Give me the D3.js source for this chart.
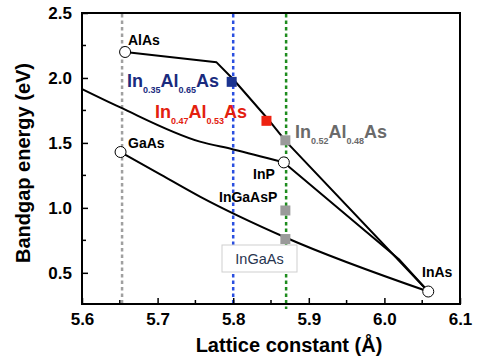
<!DOCTYPE html>
<html>
<head>
<meta charset="utf-8">
<script src="https://cdn.jsdelivr.net/npm/d3@7"></script>
<style>
  body { margin: 0; background: #fff; }
  svg { display: block; font-family: "Liberation Sans", Arial, sans-serif; }
</style>
</head>
<body>
<div class="chart"></div>
<script>
//Axis ticks
var xTicks = [5.6, 5.7, 5.8, 5.9, 6.0, 6.1];
var xMinor = [5.65, 5.75, 5.85, 5.95, 6.05];
var yTicks = [0.5, 1.0, 1.5, 2.0, 2.5];
var yMinor = [0.75, 1.25, 1.75, 2.25];

//Binary compounds (lattice constant, bandgap)
var binaryNames = ["AlAs", "GaAs", "InP", "InAs"];
var binaryA = [5.657, 5.651, 5.867, 6.058];
var binaryEg = [2.2, 1.43, 1.35, 0.356];

//Curves, [lattice constant, bandgap]
var alInAsCurve = [[5.657, 2.2], [5.778, 2.12], [5.80, 1.99], [5.845, 1.69], [5.87, 1.51], [6.058, 0.356]];
var upperCurve = [[5.6, 1.915], [5.65, 1.775], [5.756, 1.51], [5.8, 1.45], [5.867, 1.35]];
var inGaAsCurve = [[5.651, 1.43], [5.70, 1.27], [5.756, 1.087], [5.87, 0.77], [6.058, 0.356]];
var inPInAsCurve = [[5.867, 1.35], [6.02, 0.6], [6.058, 0.356]];

//Square markers
var squareA = [5.798, 5.844, 5.869, 5.869, 5.869];
var squareEg = [1.97, 1.67, 1.52, 0.98, 0.76];
var squareColors = ["#1b3490", "#ee2211", "#9a9a9a", "#9a9a9a", "#9a9a9a"];

//Vertical dotted lines
var vLineA = [5.653, 5.8, 5.87];
var vLineColors = ["#a0a0a0", "#2a4fe0", "#1e8c1e"];

function init(){
  var w = 478;
  var h = 360;
  var left = 82, top = 13, right = 460, bottom = 304;

  var svg = d3.select(".chart")
              .append("svg")
              .attr("width", w)
              .attr("height", h);

  var x = d3.scaleLinear().domain([5.6, 6.1]).range([left, right]);
  var y = d3.scaleLinear().domain([0.26, 2.5]).range([bottom, top]);

  //Dotted guide lines
  svg.selectAll(".vline")
      .data(vLineA)
      .enter()
      .append("line")
      .attr("x1", function(d){ return x(d); })
      .attr("x2", function(d){ return x(d); })
      .attr("y1", top + 1)
      .attr("y2", function(d, i){ return i == 2 ? bottom + 5 : bottom; })
      .attr("stroke", function(d, i){ return vLineColors[i]; })
      .attr("stroke-width", 2.5)
      .attr("stroke-dasharray", "3.5,3");

  //Curves (the two bowed ones are smoothed)
  var straight = d3.line()
               .x(function(d){ return x(d[0]); })
               .y(function(d){ return y(d[1]); });
  var smooth = d3.line()
               .curve(d3.curveMonotoneX)
               .x(function(d){ return x(d[0]); })
               .y(function(d){ return y(d[1]); });

  var curves = [alInAsCurve, upperCurve, inGaAsCurve, inPInAsCurve];
  var curveGen = [straight, smooth, smooth, straight];

  svg.selectAll(".curve")
      .data(curves)
      .enter()
      .append("path")
      .attr("d", function(d, i){ return curveGen[i](d); })
      .attr("fill", "none")
      .attr("stroke", "#000")
      .attr("stroke-width", 2)
      .attr("stroke-linejoin", "round");

  //InGaAs box
  var box = svg.append("g");
  box.append("rect")
      .attr("x", 222).attr("y", 245)
      .attr("width", 75).attr("height", 27)
      .attr("fill", "#fff")
      .attr("stroke", "#cfcfcf")
      .attr("stroke-width", 1);
  box.append("text")
      .attr("x", 259.5).attr("y", 263.5)
      .attr("text-anchor", "middle")
      .style("font-size", "14.5px")
      .attr("fill", "#27344f")
      .text("InGaAs");

  //Squares
  var s = 10;
  svg.selectAll(".sq")
      .data(squareA)
      .enter()
      .append("rect")
      .attr("x", function(d){ return x(d) - s / 2; })
      .attr("y", function(d, i){ return y(squareEg[i]) - s / 2; })
      .attr("width", s)
      .attr("height", s)
      .attr("fill", function(d, i){ return squareColors[i]; });

  //Binary circles
  svg.selectAll(".bin")
      .data(binaryA)
      .enter()
      .append("circle")
      .attr("cx", function(d){ return x(d); })
      .attr("cy", function(d, i){ return y(binaryEg[i]); })
      .attr("r", 5.5)
      .attr("fill", "#fff")
      .attr("stroke", "#000")
      .attr("stroke-width", 1);

  //Binary labels
  var labelPos = [[128, 45], [128, 148], [253, 179], [422, 277]];
  svg.selectAll(".binlab")
      .data(binaryNames)
      .enter()
      .append("text")
      .attr("x", function(d, i){ return labelPos[i][0]; })
      .attr("y", function(d, i){ return labelPos[i][1]; })
      .style("font-size", "14px")
      .style("font-weight", "bold")
      .text(function(d){ return d; });

  svg.append("text")
      .attr("x", 219).attr("y", 202)
      .style("font-size", "14px")
      .style("font-weight", "bold")
      .text("InGaAsP");

  //Alloy labels with subscripts
  function alloy(px, py, a, b, color){
    var t = svg.append("text")
               .attr("x", px).attr("y", py)
               .attr("fill", color)
               .style("font-weight", "bold")
               .style("font-size", "18px");
    t.append("tspan").text("In");
    t.append("tspan").attr("dy", 6).style("font-size", "9px").text(a);
    t.append("tspan").attr("dy", -6).text("Al");
    t.append("tspan").attr("dy", 6).style("font-size", "9px").text(b);
    t.append("tspan").attr("dy", -6).text("As");
  }
  alloy(127, 87, "0.35", "0.65", "#1a2b7e");
  alloy(155, 118, "0.47", "0.53", "#e3200e");
  alloy(295, 138, "0.52", "0.48", "#6a6a6a");

  //Axes with inward ticks
  var xAxis = d3.axisBottom(x).tickValues(xTicks)
                .tickFormat(d3.format(".1f"))
                .tickSizeInner(-6).tickSizeOuter(0).tickPadding(9);
  var gx = svg.append("g")
      .attr("transform", "translate(0," + bottom + ")")
      .call(xAxis);
  gx.select(".domain").remove();
  gx.selectAll("text").style("font-size", "17px").style("font-weight", "bold")
      .style("font-family", "Liberation Sans, Arial, sans-serif").attr("fill", "#000");
  gx.selectAll("line").attr("stroke-width", 1.5);

  var yAxis = d3.axisLeft(y).tickValues(yTicks)
                .tickFormat(d3.format(".1f"))
                .tickSizeInner(-6).tickSizeOuter(0).tickPadding(10);
  var gy = svg.append("g")
      .attr("transform", "translate(" + left + ",0)")
      .call(yAxis);
  gy.select(".domain").remove();
  gy.selectAll("text").style("font-size", "17px").style("font-weight", "bold")
      .style("font-family", "Liberation Sans, Arial, sans-serif").attr("fill", "#000");
  gy.selectAll("line").attr("stroke-width", 1.5);

  //Minor ticks
  svg.selectAll(".xminor")
      .data(xMinor)
      .enter()
      .append("line")
      .attr("x1", function(d){ return x(d); })
      .attr("x2", function(d){ return x(d); })
      .attr("y1", bottom)
      .attr("y2", bottom - 4)
      .attr("stroke", "#000")
      .attr("stroke-width", 1.5);
  svg.selectAll(".yminor")
      .data(yMinor)
      .enter()
      .append("line")
      .attr("x1", left)
      .attr("x2", left + 4)
      .attr("y1", function(d){ return y(d); })
      .attr("y2", function(d){ return y(d); })
      .attr("stroke", "#000")
      .attr("stroke-width", 1.5);

  //Frame
  svg.append("rect")
      .attr("x", left).attr("y", top)
      .attr("width", right - left).attr("height", bottom - top)
      .attr("fill", "none")
      .attr("stroke", "#000")
      .attr("stroke-width", 2);

  //Axis titles
  svg.append("text")
      .attr("x", 289).attr("y", 352)
      .attr("text-anchor", "middle")
      .style("font-size", "20px")
      .style("font-weight", "bold")
      .text("Lattice constant (\u00C5)");

  svg.append("text")
      .attr("transform", "translate(30,163) rotate(-90)")
      .attr("text-anchor", "middle")
      .style("font-size", "20px")
      .style("font-weight", "bold")
      .text("Bandgap energy (eV)");
}

window.onload = init;
</script>
</body>
</html>
